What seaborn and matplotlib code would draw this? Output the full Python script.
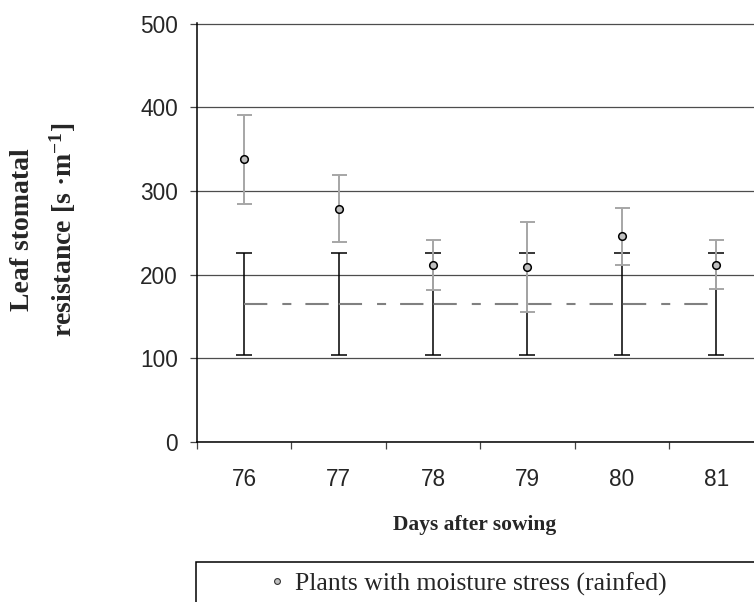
import matplotlib
matplotlib.use("Agg")
import matplotlib.pyplot as plt
import seaborn as sns
import numpy as np
import pandas as pd
from matplotlib.lines import Line2D
from matplotlib.patches import Rectangle

# ---- data ----
days = [76, 77, 78, 79, 80, 81]
rainfed_mean = [338, 279, 212, 209, 246, 212]
rainfed_err = [53, 40, 30, 54, 34, 29]
irrigated_mean = [165.5, 165.5, 165.5, 165.5, 165.5, 165.5]
irrigated_err = [61, 61, 61, 61, 61, 61]
y_ticks = [0, 100, 200, 300, 400, 500]
legend_label = "Plants with moisture stress (rainfed)"
x_label = "Days after sowing"
y_label = "Leaf stomatal\nresistance [s ·m$^{\\mathbf{-1}}$]"

sns.set_style("white")
plt.rcParams["font.family"] = ["Liberation Sans", "DejaVu Sans"]
plt.rcParams["lines.scale_dashes"] = False
plt.rcParams["mathtext.fontset"] = "custom"
plt.rcParams["mathtext.rm"] = "Liberation Serif:bold"
plt.rcParams["mathtext.bf"] = "Liberation Serif:bold"
plt.rcParams["mathtext.it"] = "Liberation Serif:bold"

fig = plt.figure(figsize=(7.54, 6.02), dpi=100)
ax = fig.add_axes([197 / 754, 160 / 602, 6 * 94.4 / 754, 419.1 / 602])

pos = np.arange(len(days))
df = pd.DataFrame({"pos": pos, "day": days, "mean": rainfed_mean, "err": rainfed_err})

# irrigated (control) error bars and mean line
ax.errorbar(pos, irrigated_mean, yerr=irrigated_err, fmt="none", ecolor="black",
            elinewidth=1.1, capsize=5.6, capthick=1.1, zorder=3)
ax.plot(pos, irrigated_mean, color="#808080", lw=1.5,
        dashes=[16.8, 10.8, 6.5, 10.1, 16.8, 7.2], zorder=3.5)

# rainfed error bars and points
ax.errorbar(pos, rainfed_mean, yerr=rainfed_err, fmt="none", ecolor="#a6a6a6",
            elinewidth=1.4, capsize=5.4, capthick=1.4, zorder=4)
sns.scatterplot(data=df, x="pos", y="mean", ax=ax, s=30, color="#c0c0c0",
                edgecolor="black", linewidth=1.1, zorder=5, legend=False)

# axes styling
ax.set_xlim(-0.5, 5.5)
ax.set_ylim(0, 501)
ax.set_yticks(y_ticks)
ax.set_yticklabels([str(v) for v in y_ticks])
ax.set_xticks(np.arange(-0.5, 6.0, 1.0))
ax.set_xticklabels([])
ax.set_xticks(pos, minor=True)
ax.set_xticklabels([str(d) for d in days], minor=True)
ax.tick_params(axis="x", which="major", direction="out", length=5, width=0.9,
               color="#444444", bottom=True)
ax.tick_params(axis="x", which="minor", length=0, pad=19, labelsize=16.3)
ax.tick_params(axis="y", which="major", direction="out", length=5, width=0.9,
               color="#444444", left=True, pad=8.6, labelsize=16.3)
ax.set_xlabel("")
ax.set_ylabel("")
ax.yaxis.grid(True, color="#4d4d4d", lw=0.9)
ax.xaxis.grid(False)
ax.set_axisbelow(True)
for s in ["top", "right"]:
    ax.spines[s].set_visible(False)
for s in ["left", "bottom"]:
    ax.spines[s].set_color("black")
    ax.spines[s].set_linewidth(1.1)

# axis titles
fig.text(44 / 754, 1 - 230 / 602, y_label, rotation=90, ha="center", va="center",
         multialignment="center", family="Liberation Serif", fontweight="bold",
         fontsize=20, linespacing=1.55)
fig.text(475 / 754, 1 - 530 / 602, x_label, ha="center", va="baseline",
         family="Liberation Serif", fontweight="bold", fontsize=15.5)

# legend (cut off by the figure edge as in the reference)
fig.add_artist(Rectangle((196 / 754, -0.5), 2, 0.5 + (1 - 561.7 / 602),
                         transform=fig.transFigure, fill=False, ec="black", lw=1.1))
h = Line2D([], [], marker="o", ls="none", ms=4.2, mfc="#c0c0c0", mec="#333333", mew=0.8)
fig.legend(handles=[h], labels=[legend_label], loc="center left",
           bbox_to_anchor=(269 / 754, 1 - 584 / 602), frameon=False, borderpad=0,
           borderaxespad=0, handlelength=0.6, handletextpad=0.41,
           prop={"family": "Liberation Serif", "size": 18.5})

fig.savefig("out.png", dpi=100)
